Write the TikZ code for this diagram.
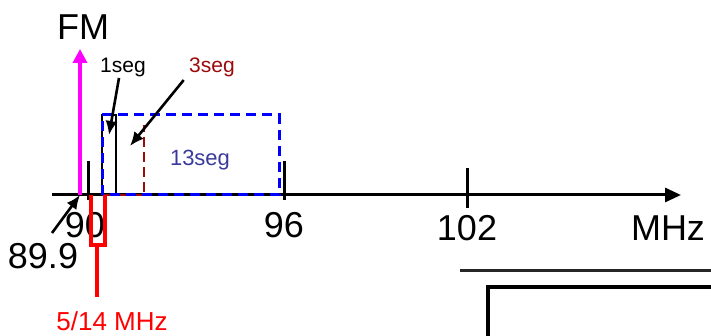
\documentclass[tikz,border=0pt]{standalone}
\usepackage{fontspec}
\setmainfont{Liberation Sans}
\usetikzlibrary{arrows.meta}
\definecolor{fmpink}{HTML}{FF00FF}
\definecolor{segred}{HTML}{9B0A0A}
\definecolor{segblue}{HTML}{0000FF}
\definecolor{labblue}{HTML}{3A3A9E}
\definecolor{forkred}{HTML}{FF0000}
\newcommand{\bigtxt}{\fontsize{36}{40}\selectfont}
\newcommand{\smalltxt}{\fontsize{21}{24}\selectfont}

\begin{document}
\begin{tikzpicture}[x=1pt,y=1pt,
    pointer/.style={-{Latex[length=14pt,width=12pt]},line width=2.6pt},
    tickline/.style={line width=3pt}]
    \useasboundingbox (0,0) rectangle (711,336);
    % frequency axis
    \node[inner sep=0pt] (axstart) at (52,141) {};
    \coordinate (axend) at (681,141);
    \draw[-{Triangle[length=16pt,width=14pt]},line width=3pt] (axstart.center) -- (axend);
    \draw[tickline] (88,136) -- (88,175);
    \draw[tickline] (284,136) -- (284,175);
    \draw[tickline] (467,128) -- (467,168);
    \node (n90) at (85,111) {\bigtxt 90};
    \node (n96) at (284,111) {\bigtxt 96};
    \node (n102) at (467,108) {\bigtxt 102};
    \node (mhz) at (668,108) {\bigtxt MHz};
    % segments
    \draw[line width=2.7pt] (102,141) rectangle (116,221);
    \draw[segred,line width=2.7pt,dash pattern=on 10pt off 5pt] (102,141) -- (144,141) -- (144,211);
    \draw[segblue,line width=3pt,dash pattern=on 10pt off 6pt] (102,141) rectangle (279,221);
    \node (oneseg) at (123,269) {\smalltxt 1seg};
    \node[text=segred] (threeseg) at (212,269) {\smalltxt 3seg};
    \node[text=labblue] (thirteen) at (200,176) {\fontsize{22}{24}\selectfont 13seg};
    \coordinate (onetip) at (109,201);
    \coordinate (threetip) at (130,190);
    \draw[pointer] (oneseg.south) ++(-4,2) -- (onetip);
    \draw[pointer] (threeseg.south west) ++(-2,0) -- (threetip);
    % FM carrier
    \node (fm) at (83,309) {\bigtxt FM};
    \coordinate (fmbase) at (80,141);
    \draw[fmpink,line width=4.5pt,-{Triangle[length=14pt,width=14pt]}] (fmbase) -- (80,287);
    \node (n899) at (43,80) {\bigtxt 89.9};
    \draw[pointer] (52,103) -- (fmbase);
    % 5/14 MHz filter
    \draw[forkred,line width=4.5pt] (91,141) -- (91,91) -- (105,91) -- (105,141);
    \draw[forkred,line width=4.5pt] (97,91) -- (97,39);
    \node[text=forkred] (offset) at (112,15) {\fontsize{26}{28}\selectfont 5/14 MHz};
    % next frame
    \draw[line width=3pt,black!85] (460,65) -- (711,65);
    \draw[line width=3.2pt] (488,0) -- (488,49) -- (711,49);
\end{tikzpicture}
\end{document}
